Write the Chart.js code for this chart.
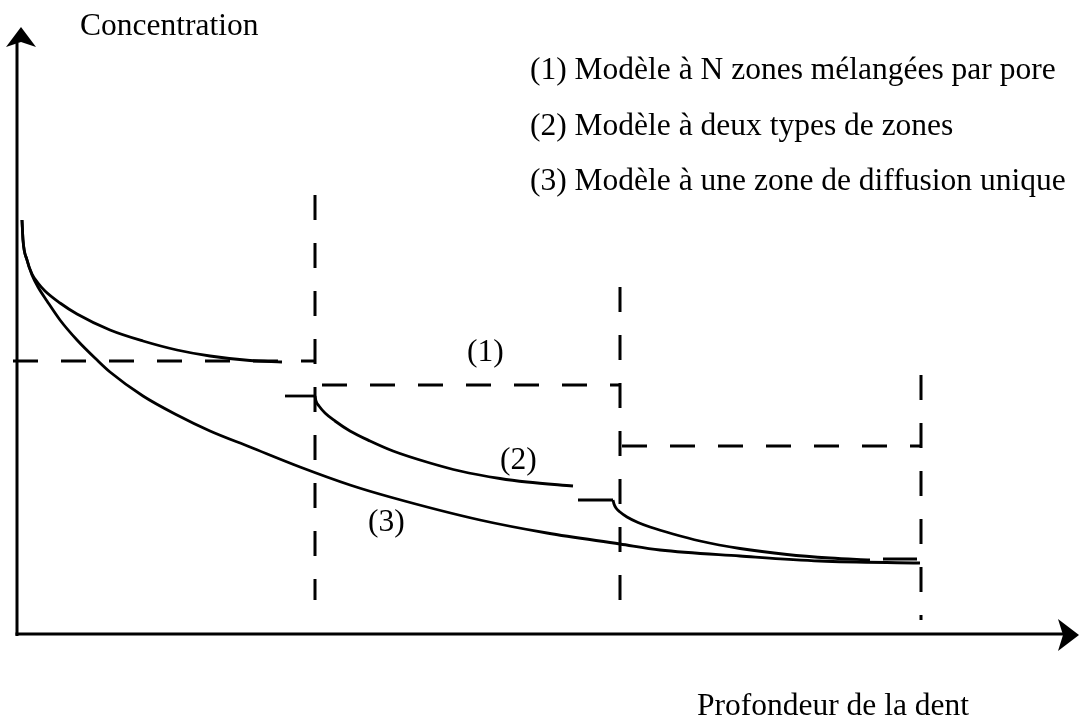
<!DOCTYPE html>
<html>
<head>
<meta charset="utf-8">
<script src="https://cdn.jsdelivr.net/npm/chart.js@4/dist/chart.umd.min.js"></script>
<style>
html,body{margin:0;padding:0;background:#fff;}
#wrap{width:1080px;height:728px;position:relative;}
</style>
</head>
<body>
<div id="wrap"><canvas id="c" width="1080" height="728"></canvas></div>
<script>
// ---- data (arbitrary units: depth on x, concentration on y) ----
// (3) single diffusion zone
const depthSingle = [0.5, 0.6, 1.0, 1.5, 2.1, 3.0, 4.3, 6.0, 8.0, 9.3, 12.6, 16.0, 19.3, 23.3, 28.3, 33.3, 37.3, 46.3, 53.0, 60.3, 64.3, 72.3, 80.3, 90.3];
const concSingle  = [41.3, 39.3, 37.3, 35.8, 34.6, 33.2, 31.3, 29.3, 27.3, 26.1, 23.7, 21.8, 20.2, 18.6, 16.6, 14.8, 13.6, 11.3, 10.0, 8.9, 8.3, 7.7, 7.2, 7.0];

// (1)/(2) curve in first zone
const depthZoneA = [0.5, 0.6, 1.0, 1.5, 2.1, 2.8, 4.3, 6.0, 9.3, 12.6, 16.0, 19.3, 23.3, 26.5];
const concZoneA  = [41.3, 39.3, 37.3, 35.9, 35.0, 34.2, 33.0, 31.9, 30.3, 29.2, 28.3, 27.7, 27.25, 27.1];

// (2) two-zone model, second zone
const depthZoneB = [29.8, 29.9, 30.2, 30.8, 31.8, 33.3, 35.3, 37.6, 41.3, 44.3, 48.3, 51.0, 55.6];
const concZoneB  = [23.7, 23.2, 22.7, 22.0, 21.2, 20.2, 19.2, 18.2, 17.0, 16.2, 15.45, 15.1, 14.7];

// (2) third zone
const depthZoneC = [59.6, 59.7, 59.9, 60.3, 61.0, 62.1, 63.3, 65.6, 68.3, 72.3, 77.0, 81.3, 85.3];
const concZoneC  = [13.3, 12.9, 12.5, 12.1, 11.6, 11.05, 10.6, 9.9, 9.2, 8.45, 7.85, 7.5, 7.3];

// short steps at the zone entries
const stepStart = [26.8, 56.1, 86.6];
const stepEnd   = [29.8, 59.6, 90.0];
const stepLevel = [23.7, 13.3, 7.4];

// (1) N mixed zones: mean level in each zone
const meanStart = [-0.4, 30.5, 60.5];
const meanEnd   = [29.8, 60.3, 90.4];
const meanLevel = [27.2, 24.8, 18.7];

// zone boundaries (dashed verticals)
const boundDepth  = [29.8, 60.3, 90.4];
const boundTop    = [43.8, 34.6, 25.8];
const boundBottom = [3.3, 1.3, 1.3];

// texts
const yTitle = 'Concentration';
const xTitle = 'Profondeur de la dent';
const legendLines = [
  '(1) Modèle à N zones mélangées par pore',
  '(2) Modèle à deux types de zones',
  '(3) Modèle à une zone de diffusion unique'
];
const tagText = ['(1)', '(2)', '(3)'];
const tagX = [45.0, 48.3, 35.1];
const tagY = [27.2, 16.4, 10.2];

// ---- build datasets ----
const zip = (xs, ys) => xs.map((v, i) => ({x: v, y: ys[i]}));
const solidCurve = (xs, ys) => ({
  data: zip(xs, ys), showLine: true, borderColor: '#000', borderWidth: 2.8,
  pointRadius: 0, cubicInterpolationMode: 'monotone', fill: false, clip: false
});
const straight = (pts, dashed) => ({
  data: pts, showLine: true, borderColor: '#000', borderWidth: dashed ? 3 : 2.8,
  borderDash: dashed ? [25, 23] : [], pointRadius: 0, tension: 0, fill: false, clip: false
});

const datasets = [
  solidCurve(depthSingle, concSingle),
  solidCurve(depthZoneA, concZoneA),
  solidCurve(depthZoneB, concZoneB),
  solidCurve(depthZoneC, concZoneC)
];
stepStart.forEach((s, i) => datasets.push(straight([{x: s, y: stepLevel[i]}, {x: stepEnd[i], y: stepLevel[i]}], false)));
meanStart.forEach((s, i) => datasets.push(straight([{x: s, y: meanLevel[i]}, {x: meanEnd[i], y: meanLevel[i]}], true)));
boundDepth.forEach((d, i) => datasets.push(straight([{x: d, y: boundTop[i]}, {x: d, y: boundBottom[i]}], true)));

const FONT = '31.5px "Liberation Serif", "Times New Roman", serif';

const decor = {
  id: 'decor',
  afterDraw(chart) {
    const {ctx, scales: {x, y}} = chart;
    const x0 = x.getPixelForValue(0);
    const y0 = y.getPixelForValue(0);
    const yTop = y.getPixelForValue(y.max);
    const xRight = x.getPixelForValue(x.max);
    ctx.save();
    ctx.strokeStyle = '#000';
    ctx.fillStyle = '#000';
    ctx.lineWidth = 3;
    // vertical axis
    ctx.beginPath();
    ctx.moveTo(x0, y0 + 3);
    ctx.lineTo(x0, yTop + 16);
    ctx.stroke();
    const ax = x0 + 4;
    ctx.beginPath();
    ctx.moveTo(ax, yTop);
    ctx.lineTo(ax + 15, yTop + 20);
    ctx.lineTo(ax, yTop + 15);
    ctx.lineTo(ax - 15, yTop + 20);
    ctx.closePath();
    ctx.fill();
    // horizontal axis
    ctx.beginPath();
    ctx.moveTo(x0 - 1.5, y0 + 1);
    ctx.lineTo(xRight + 2, y0 + 1);
    ctx.stroke();
    const ay = y0 + 2;
    ctx.beginPath();
    ctx.moveTo(xRight + 17, ay);
    ctx.lineTo(xRight - 4, ay - 16);
    ctx.lineTo(xRight + 1, ay);
    ctx.lineTo(xRight - 4, ay + 16);
    ctx.closePath();
    ctx.fill();

    // texts
    ctx.font = FONT;
    ctx.textAlign = 'left';
    ctx.textBaseline = 'alphabetic';
    ctx.fillText(yTitle, 80, 35);
    ctx.fillText(xTitle, 697, 715);
    legendLines.forEach((t, i) => ctx.fillText(t, 530, 79 + i * 55.5));
    tagText.forEach((t, i) => ctx.fillText(t, x.getPixelForValue(tagX[i]), y.getPixelForValue(tagY[i])));
    ctx.restore();
  }
};

new Chart(document.getElementById('c'), {
  type: 'scatter',
  data: {datasets},
  options: {
    responsive: false,
    animation: false,
    events: [],
    layout: {padding: {left: 17, right: 18, top: 27, bottom: 95}},
    scales: {
      x: {type: 'linear', min: 0, max: 104.5, display: false},
      y: {type: 'linear', min: 0, max: 60.6, display: false}
    },
    plugins: {legend: {display: false}, tooltip: {enabled: false}, title: {display: false}}
  },
  plugins: [decor]
});
</script>
</body>
</html>
